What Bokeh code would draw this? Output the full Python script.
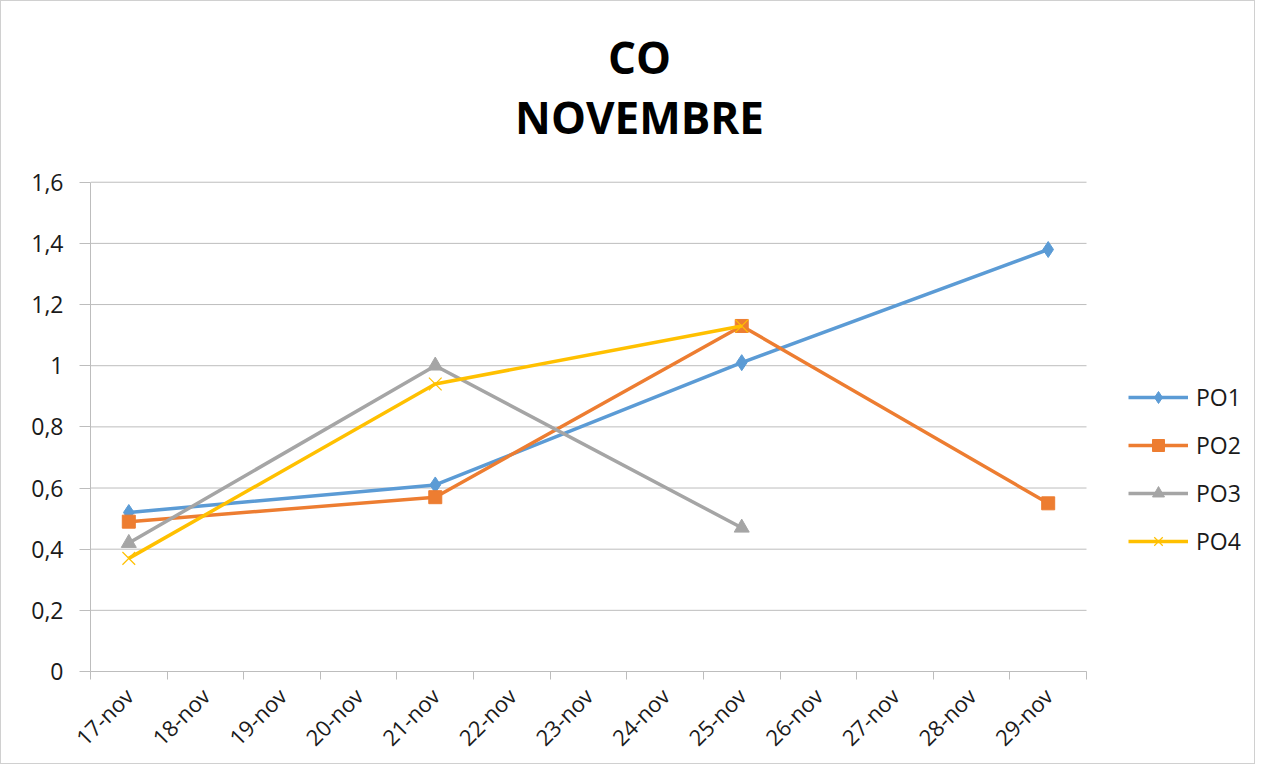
from math import pi
from bokeh.plotting import figure
from bokeh.models import Range1d, FixedTicker, Legend, LegendItem, Label
from bokeh.embed import file_html
from bokeh.resources import INLINE

# ---- data ----
categories = ["17-nov", "18-nov", "19-nov", "20-nov", "21-nov", "22-nov", "23-nov",
              "24-nov", "25-nov", "26-nov", "27-nov", "28-nov", "29-nov"]

po1_dates = ["17-nov", "21-nov", "25-nov", "29-nov"]
po1_vals = [0.52, 0.61, 1.01, 1.38]

po2_dates = ["17-nov", "21-nov", "25-nov", "29-nov"]
po2_vals = [0.49, 0.57, 1.13, 0.55]

po3_dates = ["17-nov", "21-nov", "25-nov"]
po3_vals = [0.42, 1.00, 0.47]

po4_dates = ["17-nov", "21-nov", "25-nov"]
po4_vals = [0.37, 0.94, 1.13]

y_ticks = [0, 0.2, 0.4, 0.6, 0.8, 1.0, 1.2, 1.4, 1.6]
y_tick_labels = ["0", "0,2", "0,4", "0,6", "0,8", "1", "1,2", "1,4", "1,6"]

title_line1 = "CO"
title_line2 = "NOVEMBRE"

# ---- layout (pixels) ----
W, H = 1255, 764
LEFT, BOTTOM = 89, 93
PLOT_W, PLOT_H = 996, 490        # drawing area of the categories / 0..1.6
FRAME_W, FRAME_H = W - LEFT, H - BOTTOM

FONT = "Open Sans"
GRID = "#bdbdbd"
TXT = "#1a1a1a"

ncat = len(categories)
ymax = y_ticks[-1]
p = figure(width=W, height=H, output_backend="svg", toolbar_location=None,
           x_range=Range1d(0, ncat * FRAME_W / PLOT_W),
           y_range=Range1d(0, ymax * FRAME_H / PLOT_H),
           min_border_left=LEFT, min_border_right=0, min_border_top=0,
           min_border_bottom=BOTTOM)
p.outline_line_color = None
p.background_fill_color = "white"
p.border_fill_color = "white"
p.styles = {"border": "1px solid #d0d0d0"}
p.xgrid.visible = False
p.ygrid.visible = False

# horizontal gridlines over the category area only
p.segment(x0=[0] * len(y_ticks), x1=[ncat] * len(y_ticks), y0=y_ticks, y1=y_ticks,
          line_color=GRID, line_width=1)

# x axis: labels at category centres, tick marks between categories
cx = [i + 0.5 for i in range(ncat)]
xa = p.xaxis[0]
xa.bounds = (0, ncat)
xa.ticker = FixedTicker(ticks=cx, minor_ticks=list(range(ncat + 1)))
xa.major_label_overrides = {c: lab for c, lab in zip(cx, categories)}
xa.major_tick_out = 0
xa.major_tick_in = 0
xa.minor_tick_out = 8
xa.minor_tick_in = 0
xa.minor_tick_line_color = GRID
xa.axis_line_color = GRID
xa.major_label_orientation = pi / 4
xa.major_label_standoff = 12
xa.major_label_text_font = FONT
xa.major_label_text_font_size = "22px"
xa.major_label_text_color = TXT

ya = p.yaxis[0]
ya.bounds = (0, ymax)
ya.ticker = FixedTicker(ticks=y_ticks, minor_ticks=[])
ya.major_label_overrides = {t: lab for t, lab in zip(y_ticks, y_tick_labels)}
ya.major_tick_out = 11
ya.major_tick_in = 0
ya.major_tick_line_color = GRID
ya.axis_line_color = GRID
ya.major_label_standoff = 16
ya.major_label_text_font = FONT
ya.major_label_text_font_size = "23px"
ya.major_label_text_color = TXT


def xs(dates):
    return [categories.index(d) + 0.5 for d in dates]


series = [
    ("PO1", po1_dates, po1_vals, "#5b9bd5", "diamond", 16),
    ("PO2", po2_dates, po2_vals, "#ed7d31", "square", 13),
    ("PO3", po3_dates, po3_vals, "#a5a5a5", "triangle", 15),
    ("PO4", po4_dates, po4_vals, "#ffc000", "x", 18),
]

items = []
for name, dates, vals, col, mk, size in series:
    x = xs(dates)
    ln = p.line(x, vals, line_color=col, line_width=3.5)
    if mk == "x":
        sc = p.scatter(x, vals, marker=mk, size=size, line_color=col, line_width=1.2)
    else:
        sc = p.scatter(x, vals, marker=mk, size=size, fill_color=col, line_color=col)
    items.append(LegendItem(label=name, renderers=[ln, sc]))

legend = Legend(items=items, location=(1038, 114), orientation="vertical",
                glyph_width=60, glyph_height=30, label_height=20, spacing=16,
                padding=0, margin=0, border_line_color=None,
                background_fill_alpha=0, label_text_font=FONT,
                label_text_font_size="23px", label_standoff=8,
                label_text_color=TXT)
p.add_layout(legend)

for txt, ypos in zip([title_line1, title_line2], [615, 555]):
    p.add_layout(Label(x=549, y=ypos, x_units="screen", y_units="screen", text=txt,
                       text_align="center", text_baseline="alphabetic",
                       text_font=FONT, text_font_size="44px",
                       text_font_style="bold", text_color="black"))

open("out.html", "w").write(file_html(p, INLINE))
